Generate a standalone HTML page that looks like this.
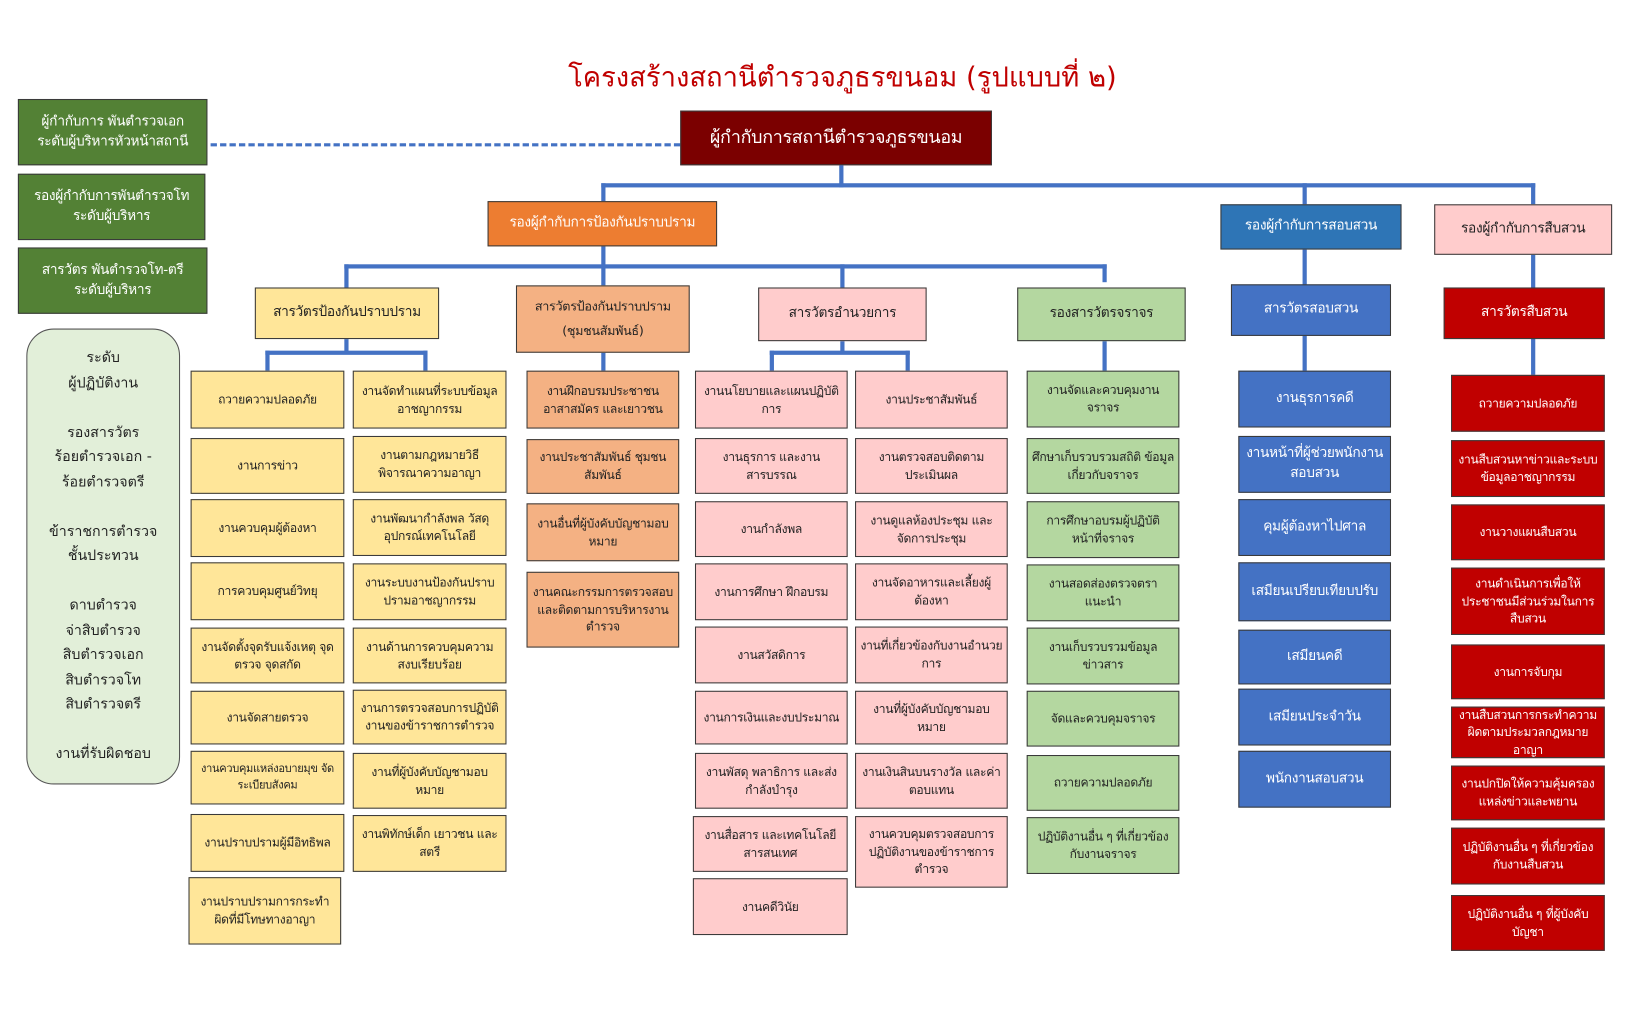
<!DOCTYPE html>
<html><head><meta charset="utf-8"><style>
html,body{margin:0;padding:0;background:#fff;width:1650px;height:1025px;overflow:hidden}
#w{position:absolute;left:0;top:0;width:1560px;height:975px;transform:scale(1.053);transform-origin:0 0;font-family:"DejaVu Sans","Liberation Sans",sans-serif}
.b{position:absolute;box-sizing:border-box;border:1.5px solid #3a3a3a;display:flex;align-items:center;justify-content:center;text-align:center;font-size:11.5px;line-height:1.45;color:#222;padding:2px 4px;letter-spacing:-0.3px}
.l{position:absolute;background:#4472c4}
.y{background:#ffe699}.o{background:#f4b183}.p{background:#ffcccc}.g{background:#b4d7a0}.u{background:#4472c4;color:#fff}.r{background:#c00000;color:#fff}
.gr{background:#538135;color:#fff;font-size:13px}
</style></head><body><div id="w">
<div style="position:absolute;left:0;width:1600px;top:53px;text-align:center;font-size:26px;color:#c00000">โครงสร้างสถานีตำรวจภูธรขนอม (รูปแบบที่ ๒)</div>
<div style="position:absolute;left:200px;top:136px;width:446px;border-top:3px dashed #4472c4"></div>
<div class="b" style="left:646px;top:105px;width:296px;height:52px;background:#7b0000;color:#fff;font-size:17px">ผู้กำกับการสถานีตำรวจภูธรขนอม</div>
<div class="b gr" style="left:17px;top:94px;width:180px;height:63px">ผู้กำกับการ พันตำรวจเอก<br>ระดับผู้บริหารหัวหน้าสถานี</div>
<div class="b gr" style="left:17px;top:165px;width:178px;height:63px">รองผู้กำกับการพันตำรวจโท<br>ระดับผู้บริหาร</div>
<div class="b gr" style="left:17px;top:235px;width:180px;height:63px">สารวัตร พันตำรวจโท-ตรี<br>ระดับผู้บริหาร</div>
<div style="position:absolute;left:25px;top:312px;width:146px;height:433px;box-sizing:border-box;background:#e2efd9;border:1.5px solid #555;border-radius:26px;text-align:center;font-size:13.5px;line-height:23.5px;color:#222;padding-top:16px">ระดับ<br>ผู้ปฏิบัติงาน<br><br>รองสารวัตร<br>ร้อยตำรวจเอก -<br>ร้อยตำรวจตรี<br><br>ข้าราชการตำรวจ<br>ชั้นประทวน<br><br>ดาบตำรวจ<br>จ่าสิบตำรวจ<br>สิบตำรวจเอก<br>สิบตำรวจโท<br>สิบตำรวจตรี<br><br>งานที่รับผิดชอบ</div>

<div class="l" style="left:797px;top:157px;width:4px;height:21px"></div>
<div class="l" style="left:571px;top:174px;width:887px;height:4px"></div>
<div class="l" style="left:571px;top:174px;width:4px;height:17px"></div>
<div class="l" style="left:1237px;top:174px;width:4px;height:20px"></div>
<div class="l" style="left:1454px;top:174px;width:4px;height:20px"></div>
<div class="l" style="left:571px;top:234px;width:4px;height:37px"></div>
<div class="l" style="left:327px;top:251px;width:724px;height:4px"></div>
<div class="l" style="left:327px;top:251px;width:4px;height:22px"></div>
<div class="l" style="left:798px;top:251px;width:4px;height:22px"></div>
<div class="l" style="left:1047px;top:251px;width:4px;height:17px"></div>
<div class="l" style="left:1237px;top:237px;width:4px;height:115px"></div>
<div class="l" style="left:1454px;top:242px;width:4px;height:114px"></div>
<div class="l" style="left:327px;top:322px;width:4px;height:13px"></div>
<div class="l" style="left:252px;top:333px;width:154px;height:4px"></div>
<div class="l" style="left:252px;top:333px;width:4px;height:19px"></div>
<div class="l" style="left:402px;top:333px;width:4px;height:19px"></div>
<div class="l" style="left:571px;top:335px;width:4px;height:17px"></div>
<div class="l" style="left:798px;top:324px;width:4px;height:11px"></div>
<div class="l" style="left:731px;top:333px;width:133px;height:4px"></div>
<div class="l" style="left:731px;top:333px;width:4px;height:19px"></div>
<div class="l" style="left:860px;top:333px;width:4px;height:19px"></div>
<div class="l" style="left:1047px;top:324px;width:4px;height:28px"></div>

<div class="b" style="left:463px;top:191px;width:218px;height:43px;background:#ed7d31;color:#fff;font-size:13px">รองผู้กำกับการป้องกันปราบปราม</div>
<div class="b" style="left:1159px;top:194px;width:172px;height:43px;background:#2e75b6;color:#fff;font-size:13px">รองผู้กำกับการสอบสวน</div>
<div class="b p" style="left:1362px;top:194px;width:169px;height:48px;font-size:13px">รองผู้กำกับการสืบสวน</div>

<div class="b y" style="left:242px;top:273px;width:175px;height:49px;font-size:13px">สารวัตรป้องกันปราบปราม</div>
<div class="b o" style="left:490px;top:271px;width:165px;height:64px;font-size:12px;line-height:1.9">สารวัตรป้องกันปราบปราม<br>(ชุมชนสัมพันธ์)</div>
<div class="b p" style="left:720px;top:273px;width:160px;height:51px;font-size:13px">สารวัตรอำนวยการ</div>
<div class="b g" style="left:966px;top:273px;width:160px;height:51px;font-size:13px">รองสารวัตรจราจร</div>
<div class="b u" style="left:1169px;top:270px;width:152px;height:49px;font-size:13px">สารวัตรสอบสวน</div>
<div class="b r" style="left:1371px;top:273px;width:153px;height:49px;font-size:13px">สารวัตรสืบสวน</div>

<div class="b y" style="left:181px;top:352px;width:146px;height:55px">ถวายความปลอดภัย</div>
<div class="b y" style="left:181px;top:416px;width:146px;height:53px">งานการข่าว</div>
<div class="b y" style="left:181px;top:474px;width:146px;height:55px">งานควบคุมผู้ต้องหา</div>
<div class="b y" style="left:181px;top:534px;width:146px;height:55px">การควบคุมศูนย์วิทยุ</div>
<div class="b y" style="left:181px;top:596px;width:146px;height:53px">งานจัดตั้งจุดรับแจ้งเหตุ จุดตรวจ จุดสกัด</div>
<div class="b y" style="left:181px;top:656px;width:146px;height:51px">งานจัดสายตรวจ</div>
<div class="b y" style="left:181px;top:713px;width:146px;height:51px;font-size:10.5px">งานควบคุมแหล่งอบายมุข จัดระเบียบสังคม</div>
<div class="b y" style="left:181px;top:773px;width:146px;height:55px">งานปราบปรามผู้มีอิทธิพล</div>
<div class="b y" style="left:179px;top:833px;width:145px;height:64px">งานปราบปรามการกระทำผิดที่มีโทษทางอาญา</div>
<div class="b y" style="left:335px;top:352px;width:146px;height:55px">งานจัดทำแผนที่ระบบข้อมูลอาชญากรรม</div>
<div class="b y" style="left:335px;top:414px;width:146px;height:54px">งานตามกฎหมายวิธีพิจารณาความอาญา</div>
<div class="b y" style="left:335px;top:474px;width:146px;height:54px">งานพัฒนากำลังพล วัสดุ อุปกรณ์เทคโนโลยี</div>
<div class="b y" style="left:335px;top:535px;width:146px;height:54px">งานระบบงานป้องกันปราบปรามอาชญากรรม</div>
<div class="b y" style="left:335px;top:596px;width:146px;height:53px">งานด้านการควบคุมความสงบเรียบร้อย</div>
<div class="b y" style="left:335px;top:655px;width:146px;height:52px">งานการตรวจสอบการปฏิบัติงานของข้าราชการตำรวจ</div>
<div class="b y" style="left:335px;top:715px;width:146px;height:53px">งานที่ผู้บังคับบัญชามอบหมาย</div>
<div class="b y" style="left:335px;top:774px;width:146px;height:54px">งานพิทักษ์เด็ก เยาวชน และสตรี</div>
<div class="b o" style="left:500px;top:352px;width:145px;height:55px">งานฝึกอบรมประชาชน อาสาสมัคร และเยาวชน</div>
<div class="b o" style="left:500px;top:417px;width:145px;height:52px">งานประชาสัมพันธ์ ชุมชนสัมพันธ์</div>
<div class="b o" style="left:500px;top:478px;width:145px;height:55px">งานอื่นที่ผู้บังคับบัญชามอบหมาย</div>
<div class="b o" style="left:500px;top:543px;width:145px;height:72px">งานคณะกรรมการตรวจสอบและติดตามการบริหารงานตำรวจ</div>
<div class="b p" style="left:660px;top:352px;width:145px;height:55px">งานนโยบายและแผนปฏิบัติการ</div>
<div class="b p" style="left:660px;top:416px;width:145px;height:53px">งานธุรการ และงานสารบรรณ</div>
<div class="b p" style="left:660px;top:476px;width:145px;height:53px">งานกำลังพล</div>
<div class="b p" style="left:660px;top:535px;width:145px;height:54px">งานการศึกษา ฝึกอบรม</div>
<div class="b p" style="left:660px;top:595px;width:145px;height:54px">งานสวัสดิการ</div>
<div class="b p" style="left:660px;top:656px;width:145px;height:51px">งานการเงินและงบประมาณ</div>
<div class="b p" style="left:660px;top:715px;width:145px;height:53px">งานพัสดุ พลาธิการ และส่งกำลังบำรุง</div>
<div class="b p" style="left:658px;top:775px;width:147px;height:53px">งานสื่อสาร และเทคโนโลยีสารสนเทศ</div>
<div class="b p" style="left:658px;top:834px;width:147px;height:54px">งานคดีวินัย</div>
<div class="b p" style="left:812px;top:352px;width:145px;height:55px">งานประชาสัมพันธ์</div>
<div class="b p" style="left:812px;top:416px;width:145px;height:53px">งานตรวจสอบติดตามประเมินผล</div>
<div class="b p" style="left:812px;top:476px;width:145px;height:53px">งานดูแลห้องประชุม และจัดการประชุม</div>
<div class="b p" style="left:812px;top:535px;width:145px;height:54px">งานจัดอาหารและเลี้ยงผู้ต้องหา</div>
<div class="b p" style="left:812px;top:595px;width:145px;height:54px">งานที่เกี่ยวข้องกับงานอำนวยการ</div>
<div class="b p" style="left:812px;top:656px;width:145px;height:51px">งานที่ผู้บังคับบัญชามอบหมาย</div>
<div class="b p" style="left:812px;top:715px;width:145px;height:53px">งานเงินสินบนรางวัล และค่าตอบแทน</div>
<div class="b p" style="left:812px;top:775px;width:145px;height:68px">งานควบคุมตรวจสอบการปฏิบัติงานของข้าราชการตำรวจ</div>
<div class="b g" style="left:975px;top:352px;width:145px;height:54px">งานจัดและควบคุมงานจราจร</div>
<div class="b g" style="left:975px;top:416px;width:145px;height:53px">ศึกษาเก็บรวบรวมสถิติ ข้อมูลเกี่ยวกับจราจร</div>
<div class="b g" style="left:975px;top:476px;width:145px;height:54px">การศึกษาอบรมผู้ปฏิบัติหน้าที่จราจร</div>
<div class="b g" style="left:975px;top:536px;width:145px;height:54px">งานสอดส่องตรวจตราแนะนำ</div>
<div class="b g" style="left:975px;top:596px;width:145px;height:54px">งานเก็บรวบรวมข้อมูลข่าวสาร</div>
<div class="b g" style="left:975px;top:656px;width:145px;height:53px">จัดและควบคุมจราจร</div>
<div class="b g" style="left:975px;top:717px;width:145px;height:53px">ถวายความปลอดภัย</div>
<div class="b g" style="left:975px;top:776px;width:145px;height:54px">ปฏิบัติงานอื่น ๆ ที่เกี่ยวข้องกับงานจราจร</div>
<div class="b u" style="left:1176px;top:352px;width:145px;height:54px;font-size:13px">งานธุรการคดี</div>
<div class="b u" style="left:1176px;top:414px;width:145px;height:54px;font-size:13px">งานหน้าที่ผู้ช่วยพนักงานสอบสวน</div>
<div class="b u" style="left:1176px;top:474px;width:145px;height:54px;font-size:13px">คุมผู้ต้องหาไปศาล</div>
<div class="b u" style="left:1176px;top:534px;width:145px;height:56px;font-size:13px">เสมียนเปรียบเทียบปรับ</div>
<div class="b u" style="left:1176px;top:598px;width:145px;height:52px;font-size:13px">เสมียนคดี</div>
<div class="b u" style="left:1176px;top:654px;width:145px;height:54px;font-size:13px">เสมียนประจำวัน</div>
<div class="b u" style="left:1176px;top:713px;width:145px;height:54px;font-size:13px">พนักงานสอบสวน</div>
<div class="b r" style="left:1378px;top:356px;width:146px;height:54px">ถวายความปลอดภัย</div>
<div class="b r" style="left:1378px;top:418px;width:146px;height:54px">งานสืบสวนหาข่าวและระบบข้อมูลอาชญากรรม</div>
<div class="b r" style="left:1378px;top:479px;width:146px;height:53px">งานวางแผนสืบสวน</div>
<div class="b r" style="left:1378px;top:539px;width:146px;height:64px">งานดำเนินการเพื่อให้ประชาชนมีส่วนร่วมในการสืบสวน</div>
<div class="b r" style="left:1378px;top:612px;width:146px;height:52px">งานการจับกุม</div>
<div class="b r" style="left:1378px;top:671px;width:146px;height:49px">งานสืบสวนการกระทำความผิดตามประมวลกฎหมายอาญา</div>
<div class="b r" style="left:1378px;top:727px;width:146px;height:52px">งานปกปิดให้ความคุ้มครองแหล่งข่าวและพยาน</div>
<div class="b r" style="left:1378px;top:786px;width:146px;height:54px">ปฏิบัติงานอื่น ๆ ที่เกี่ยวข้องกับงานสืบสวน</div>
<div class="b r" style="left:1378px;top:850px;width:146px;height:53px">ปฏิบัติงานอื่น ๆ ที่ผู้บังคับบัญชา</div>
</div></body></html>
